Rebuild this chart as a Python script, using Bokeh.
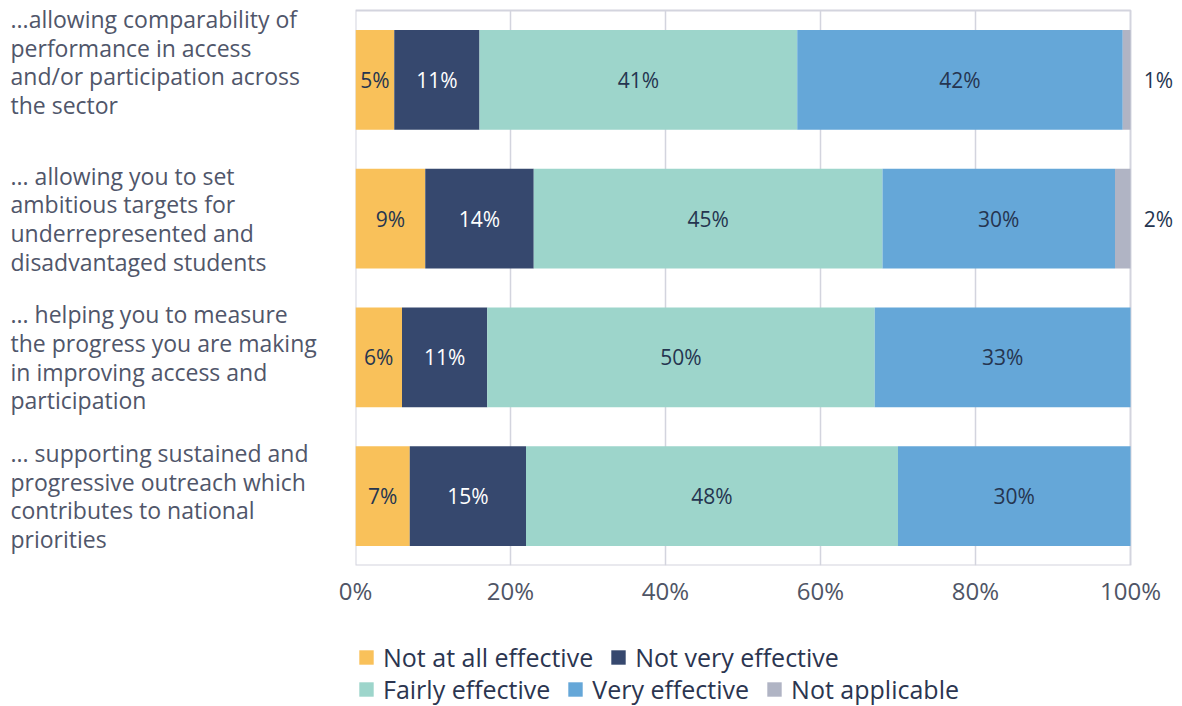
from bokeh.plotting import figure
from bokeh.layouts import row, column
from bokeh.models import Legend, LegendItem, Range1d, FixedTicker, ColumnDataSource
from bokeh.embed import file_html
from bokeh.resources import INLINE
from bokeh.core.properties import value

categories = [
    "...allowing comparability of\nperformance in access\nand/or participation across\nthe sector",
    "... allowing you to set\nambitious targets for\nunderrepresented and\ndisadvantaged students",
    "... helping you to measure\nthe progress you are making\nin improving access and\nparticipation",
    "... supporting sustained and\nprogressive outreach which\ncontributes to national\npriorities",
]
series = ["Not at all effective", "Not very effective", "Fairly effective", "Very effective", "Not applicable"]
not_at_all = [5, 9, 6, 7]
not_very = [11, 14, 11, 15]
fairly = [41, 45, 50, 48]
very = [42, 30, 33, 30]
not_applicable = [1, 2, 0, 0]
colors = ["#F9C15A", "#36486E", "#9DD5CB", "#65A7D8", "#B0B4C4"]
label_colors = ["#253550", "#FFFFFF", "#253550", "#253550", "#253550"]
ticks = [0, 20, 40, 60, 80, 100]
tick_labels = ["0%", "20%", "40%", "60%", "80%", "100%"]

FONT = "Open Sans"
TOTAL_W = 1182
TOTAL_H = 706
LEFT_W = 330          # width of the label column
BORDER_L = 25         # chart's left border
MAIN_W = TOTAL_W - LEFT_W - BORDER_L
FRAME_H = 565
AXIS_H = 50
PX_PER_PCT = 7.75
ROW_PX = 138.75
label_dy = [-18, 0, 0, 0]   # vertical nudge of the category label blocks (px)

values = [not_at_all, not_very, fairly, very, not_applicable]
n = len(categories)
ypos = [n - 0.5 - i for i in range(n)]
y_range = Range1d(0, FRAME_H / ROW_PX)

# ---- label column ----
left = figure(frame_width=LEFT_W, frame_height=FRAME_H, output_backend="svg", toolbar_location=None,
              x_range=Range1d(0, LEFT_W), y_range=y_range,
              min_border_left=0, min_border_right=0, min_border_top=0, min_border_bottom=0)
left.axis.visible = False
left.grid.visible = False
left.outline_line_color = None
left.text(x="x", y="y", text="t", y_offset="dy",
          source=ColumnDataSource(dict(x=[10] * n, y=ypos, t=categories, dy=label_dy)),
          text_align="left", text_baseline="middle",
          text_font=value(FONT), text_font_size="23px", text_color="#50566A",
          text_line_height=0.894)

# ---- chart ----
p = figure(frame_width=MAIN_W, frame_height=FRAME_H, output_backend="svg", toolbar_location=None,
           x_range=Range1d(0, MAIN_W / PX_PER_PCT), y_range=y_range,
           min_border_left=BORDER_L, min_border_right=0, min_border_top=0, min_border_bottom=AXIS_H)
p.outline_line_color = None
p.yaxis.visible = False
p.grid.visible = False

p.segment(x0=ticks[1:-1], x1=ticks[1:-1], y0=[0] * 4, y1=[n] * 4,
          line_color="#D3D4DE", line_width=1.5)
p.quad(left=[0], right=[100], bottom=[0], top=[n], fill_color=None,
       line_color="#D3D4DE", line_width=2)

p.xaxis.ticker = FixedTicker(ticks=ticks)
p.xaxis.major_label_overrides = {t: l for t, l in zip(ticks, tick_labels)}
p.xaxis.axis_line_color = None
p.xaxis.major_tick_line_color = None
p.xaxis.minor_tick_line_color = None
p.xaxis.major_tick_out = 0
p.xaxis.major_tick_in = 0
p.xaxis.major_label_standoff = 8
p.xaxis.major_label_text_font = FONT
p.xaxis.major_label_text_font_size = "24px"
p.xaxis.major_label_text_color = "#4F5566"

lefts = [0] * n
tx, ty, tt, tc, ox = [], [], [], [], []
for s, vals, col, lc in zip(series, values, colors, label_colors):
    rights = [l + v for l, v in zip(lefts, vals)]
    src = ColumnDataSource(dict(y=ypos, left=lefts, right=rights))
    p.hbar(y="y", left="left", right="right", height=0.72, source=src,
           fill_color=col, line_color=None)
    for i, v in enumerate(vals):
        if v <= 0:
            continue
        if v >= 3:
            tx.append(lefts[i] + v / 2); tc.append(lc); ox.append(0)
        else:
            tx.append(100); tc.append("#253550"); ox.append(28)
        ty.append(ypos[i]); tt.append(f"{v}%")
    lefts = rights

p.text(x="x", y="y", text="t", text_color="c", x_offset="ox",
       source=ColumnDataSource(dict(x=tx, y=ty, t=tt, c=tc, ox=ox)),
       text_align="center", text_baseline="middle",
       text_font=value(FONT), text_font_size="21px")

# ---- legend strip ----
LEG_H = TOTAL_H - FRAME_H - AXIS_H
leg = figure(frame_width=TOTAL_W, frame_height=LEG_H, output_backend="svg", toolbar_location=None,
             x_range=Range1d(0, 1), y_range=Range1d(0, 1),
             min_border_left=0, min_border_right=0, min_border_top=0, min_border_bottom=0)
leg.axis.visible = False
leg.grid.visible = False
leg.outline_line_color = None
# key swatches: one off-screen bar per series so the legend has something to draw
key_renderers = [leg.hbar(y=[-5], left=[0], right=[1], height=1, fill_color=c, line_color=None)
                 for c in colors]

def make_legend(idx, loc):
    items = [LegendItem(label=series[k], renderers=[key_renderers[k]]) for k in idx]
    return Legend(items=items, orientation="horizontal", location=loc,
                  padding=0, margin=0, spacing=16, label_standoff=8,
                  glyph_width=18, glyph_height=18,
                  label_text_font=FONT, label_text_font_size="25px",
                  label_text_color="#2B3550",
                  border_line_color=None, background_fill_alpha=0)

leg.add_layout(make_legend([0, 1], (LEFT_W + BORDER_L + 2, 32)), "center")
leg.add_layout(make_legend([2, 3, 4], (LEFT_W + BORDER_L + 2, 0)), "center")

layout = column(row(left, p), leg)
open("out.html", "w").write(file_html(layout, INLINE))
